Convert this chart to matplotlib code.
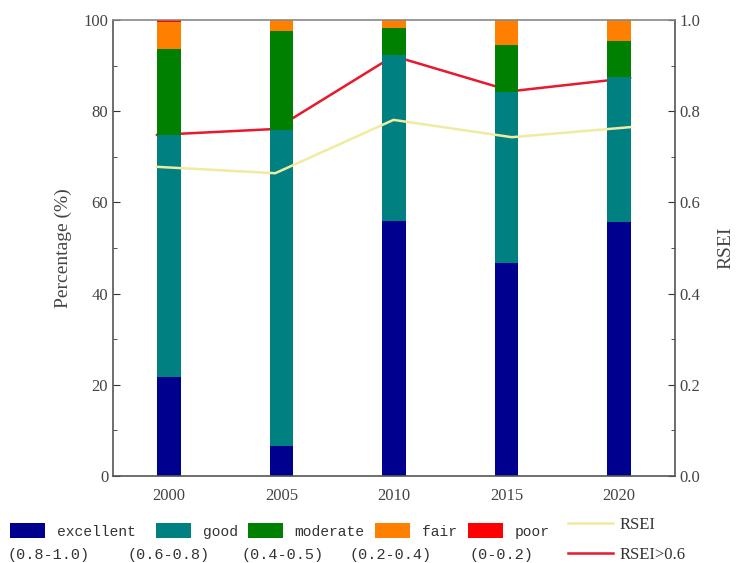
import matplotlib
matplotlib.use("Agg")
import matplotlib.pyplot as plt
from matplotlib.patches import Patch
from matplotlib.lines import Line2D
from matplotlib.ticker import MultipleLocator, FuncFormatter
import numpy as np

plt.rcParams['font.family'] = ['Liberation Serif', 'DejaVu Serif']

years = ['2000', '2005', '2010', '2015', '2020']
excellent = [21.7, 6.6, 55.9, 46.7, 55.7]
good = [53.1, 69.3, 36.4, 37.5, 31.8]
moderate = [18.8, 21.7, 5.9, 10.3, 7.9]
fair = [6.0, 2.4, 1.7, 5.5, 4.6]
poor = [0.4, 0.0, 0.1, 0.0, 0.0]
rsei = [0.678, 0.664, 0.781, 0.743, 0.765]
rsei_gt06 = [0.748, 0.761, 0.921, 0.844, 0.873]

cat_names = ['excellent', 'good', 'moderate', 'fair', 'poor']
cat_ranges = ['(0.8-1.0)', '(0.6-0.8)', '(0.4-0.5)', '(0.2-0.4)', '(0-0.2)']
cat_colors = ['#00008F', '#008080', '#008000', '#FF8000', '#FF0000']
RSEI_COLOR = '#F0EBA0'
GT_COLOR = '#E8182D'

W, H = 739, 563
pos = [113 / W, 1 - 476 / H, (675 - 113) / W, (476 - 20) / H]
fig = plt.figure(figsize=(W / 100, H / 100), dpi=100)
x = np.arange(len(years))

# line axes (behind the bars), with its own x scale as in the original
axl = fig.add_axes(pos, zorder=1)
axl.plot(x, rsei_gt06, color=GT_COLOR, lw=1.8)
axl.set_xlim(-0.372, 4.38)
axl.set_ylim(0, 1.0)
axl.set_xticks([])
axl.yaxis.tick_right()
axl.yaxis.set_label_position('right')
axl.yaxis.set_major_locator(MultipleLocator(0.2))
axl.yaxis.set_minor_locator(MultipleLocator(0.1))
axl.yaxis.set_major_formatter(FuncFormatter(lambda v, p: f"{v:.1f}"))
axl.tick_params(axis='y', which='both', direction='in', labelsize=12, colors='#333333', labelcolor='#444444')
axl.tick_params(axis='y', which='major', length=5)
axl.tick_params(axis='y', which='minor', length=3)
axl.set_ylabel('RSEI', fontsize=14, color='#444444', labelpad=12)
for s in axl.spines.values():
    s.set_visible(False)

# bar axes
ax = fig.add_axes(pos, zorder=2)
ax.patch.set_alpha(0)
bottom = np.zeros(len(years))
for vals, col in zip([excellent, good, moderate, fair, poor], cat_colors):
    ax.bar(x, vals, width=0.21, bottom=bottom, color=col, zorder=2)
    bottom += np.array(vals)
ax.set_xlim(-0.5, 4.5)
ax.set_ylim(0, 100)
ax.set_xticks(x)
ax.set_xticklabels(years)
ax.yaxis.set_major_locator(MultipleLocator(20))
ax.yaxis.set_minor_locator(MultipleLocator(10))
ax.tick_params(axis='both', which='both', direction='in', labelsize=12, colors='#333333', labelcolor='#444444')
ax.tick_params(axis='x', length=0, pad=9)
ax.tick_params(axis='y', which='major', length=5)
ax.tick_params(axis='y', which='minor', length=3)
ax.set_ylabel('Percentage (%)', fontsize=14, color='#444444', labelpad=8)
for s in ax.spines.values():
    s.set_color('#555555')
    s.set_linewidth(1.2)
ax.spines['top'].set_color('#888888')

# RSEI line overlay (on top of bars)
axy = fig.add_axes(pos, zorder=3)
axy.patch.set_alpha(0)
axy.plot(x, rsei, color=RSEI_COLOR, lw=1.8)
axy.set_xlim(-0.372, 4.38)
axy.set_ylim(0, 1.0)
axy.axis('off')

mono = ['Liberation Mono', 'DejaVu Sans Mono']
patch_x = [10, 156, 248, 375, 468]
range_x = [7, 128, 242, 350, 470]
for px, rx, name, rng, col in zip(patch_x, range_x, cat_names, cat_ranges, cat_colors):
    lg = fig.legend([Patch(facecolor=col, edgecolor='none')], [name], loc='center left',
                    bbox_to_anchor=(px / W, 1 - 531 / H), frameon=False,
                    prop={'family': mono, 'size': 10.5}, handlelength=2.4, handleheight=1.15,
                    handletextpad=0.8, borderpad=0, borderaxespad=0)
    for t in lg.get_texts():
        t.set_color('#333333')
    fig.text(rx / W, 1 - 555 / H, rng, fontsize=11, va='center', ha='left',
             color='#333333', family=mono)

for yy, col, lab in [(525, RSEI_COLOR, 'RSEI'), (555, GT_COLOR, 'RSEI>0.6')]:
    lg = fig.legend([Line2D([0], [0], color=col, lw=1.8)], [lab], loc='center left',
                    bbox_to_anchor=(568 / W, 1 - yy / H), frameon=False, fontsize=12,
                    handlelength=2.7, handletextpad=0.4, borderpad=0, borderaxespad=0)
    for t in lg.get_texts():
        t.set_color('#333333')

fig.savefig('out.png', dpi=100)
